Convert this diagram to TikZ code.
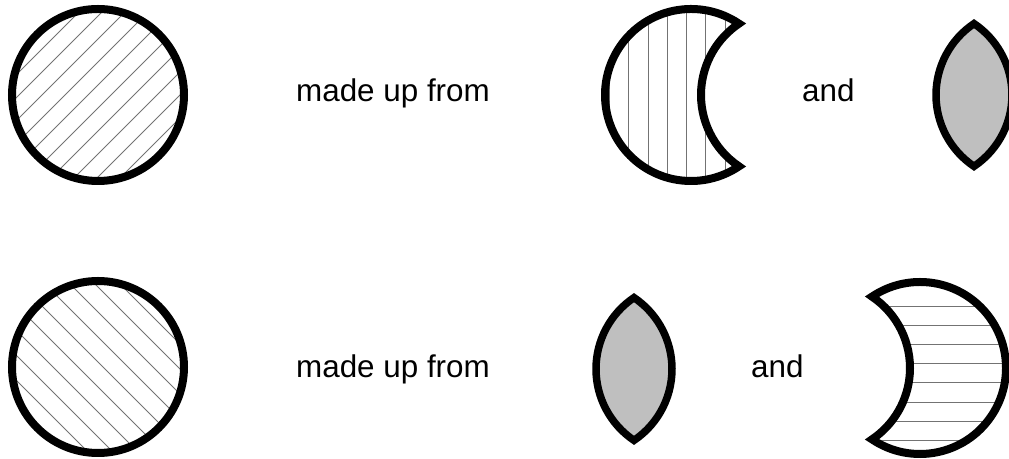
\documentclass[tikz,border=0pt]{standalone}
\usepackage{fontspec}
\setmainfont{Liberation Sans}
\usetikzlibrary{calc}

\begin{document}
\begin{tikzpicture}[
    x=1bp, y=1bp,
    outline/.style={
        draw=black,
        line width=8bp,
        line join=miter
    },
    hatchline/.style={
        draw=black!55,
        line width=0.8bp
    },
    lensshape/.style={
        draw=black,
        fill=black!25,
        line width=7.5bp,
        line join=miter
    },
    wordnode/.style={
        anchor=base west,
        inner sep=0pt,
        font=\fontsize{31.5}{38}\selectfont
    }
]
    \useasboundingbox (0, 0) rectangle (1009, 459);

    % Top row: whole disc
    \coordinate (discA) at (98, 364);
    \begin{scope}
        \clip (discA) circle (86);
        \foreach \k in {-194, -171, ..., 200}
            \draw[hatchline] ($(discA)+(\k-150, -150)$) -- ++(300, 300);
    \end{scope}
    \draw[outline] (discA) circle (86);
    \node[wordnode] (fromA) at (296, 357) {made up from};

    % Top row: crescent
    \coordinate (moonA) at (691, 364);
    \coordinate (biteA) at (787, 364);
    \begin{scope}
        \clip (moonA) ++(180:86)
            arc[start angle=180, end angle=303.93, radius=86]
            arc[start angle=236.07, end angle=123.93, radius=86]
            arc[start angle=56.07, end angle=180, radius=86] -- cycle;
        \foreach \i in {0, ..., 6}
            \draw[hatchline] (609.5 + 19.25*\i, 270) -- ++(0, 190);
    \end{scope}
    \draw[outline] (moonA) ++(180:86)
        arc[start angle=180, end angle=303.93, radius=86]
        arc[start angle=236.07, end angle=123.93, radius=86]
        arc[start angle=56.07, end angle=180, radius=86] -- cycle;
    \node[wordnode] (andA) at (802, 357) {and};

    % Top row: lens
    \coordinate (lensA) at (974, 364);
    \draw[lensshape] (lensA) ++(-38, 0)
        arc[start angle=180, end angle=236.07, radius=86]
        arc[start angle=303.93, end angle=416.07, radius=86]
        arc[start angle=123.93, end angle=180, radius=86] -- cycle;

    % Bottom row: whole disc
    \coordinate (discB) at (98, 92);
    \begin{scope}
        \clip (discB) circle (86);
        \foreach \k in {-195, -170, ..., 205}
            \draw[hatchline] ($(discB)+(\k-150, 150)$) -- ++(300, -300);
    \end{scope}
    \draw[outline] (discB) circle (86);
    \node[wordnode] (fromB) at (296, 81) {made up from};

    % Bottom row: lens
    \coordinate (lensB) at (634, 90);
    \draw[lensshape] (lensB) ++(-38, 0)
        arc[start angle=180, end angle=236.07, radius=86]
        arc[start angle=303.93, end angle=416.07, radius=86]
        arc[start angle=123.93, end angle=180, radius=86] -- cycle;
    \node[wordnode] (andB) at (751, 81) {and};

    % Bottom row: crescent
    \coordinate (moonB) at (920, 91);
    \coordinate (biteB) at (824, 91);
    \begin{scope}
        \clip (moonB) ++(0:86)
            arc[start angle=0, end angle=123.93, radius=86]
            arc[start angle=56.07, end angle=-56.07, radius=86]
            arc[start angle=236.07, end angle=360, radius=86] -- cycle;
        \foreach \i in {0, ..., 7}
            \draw[hatchline] (870, 152.3 - 19.05*\i) -- ++(140, 0);
    \end{scope}
    \draw[outline] (moonB) ++(0:86)
        arc[start angle=0, end angle=123.93, radius=86]
        arc[start angle=56.07, end angle=-56.07, radius=86]
        arc[start angle=236.07, end angle=360, radius=86] -- cycle;
\end{tikzpicture}
\end{document}
